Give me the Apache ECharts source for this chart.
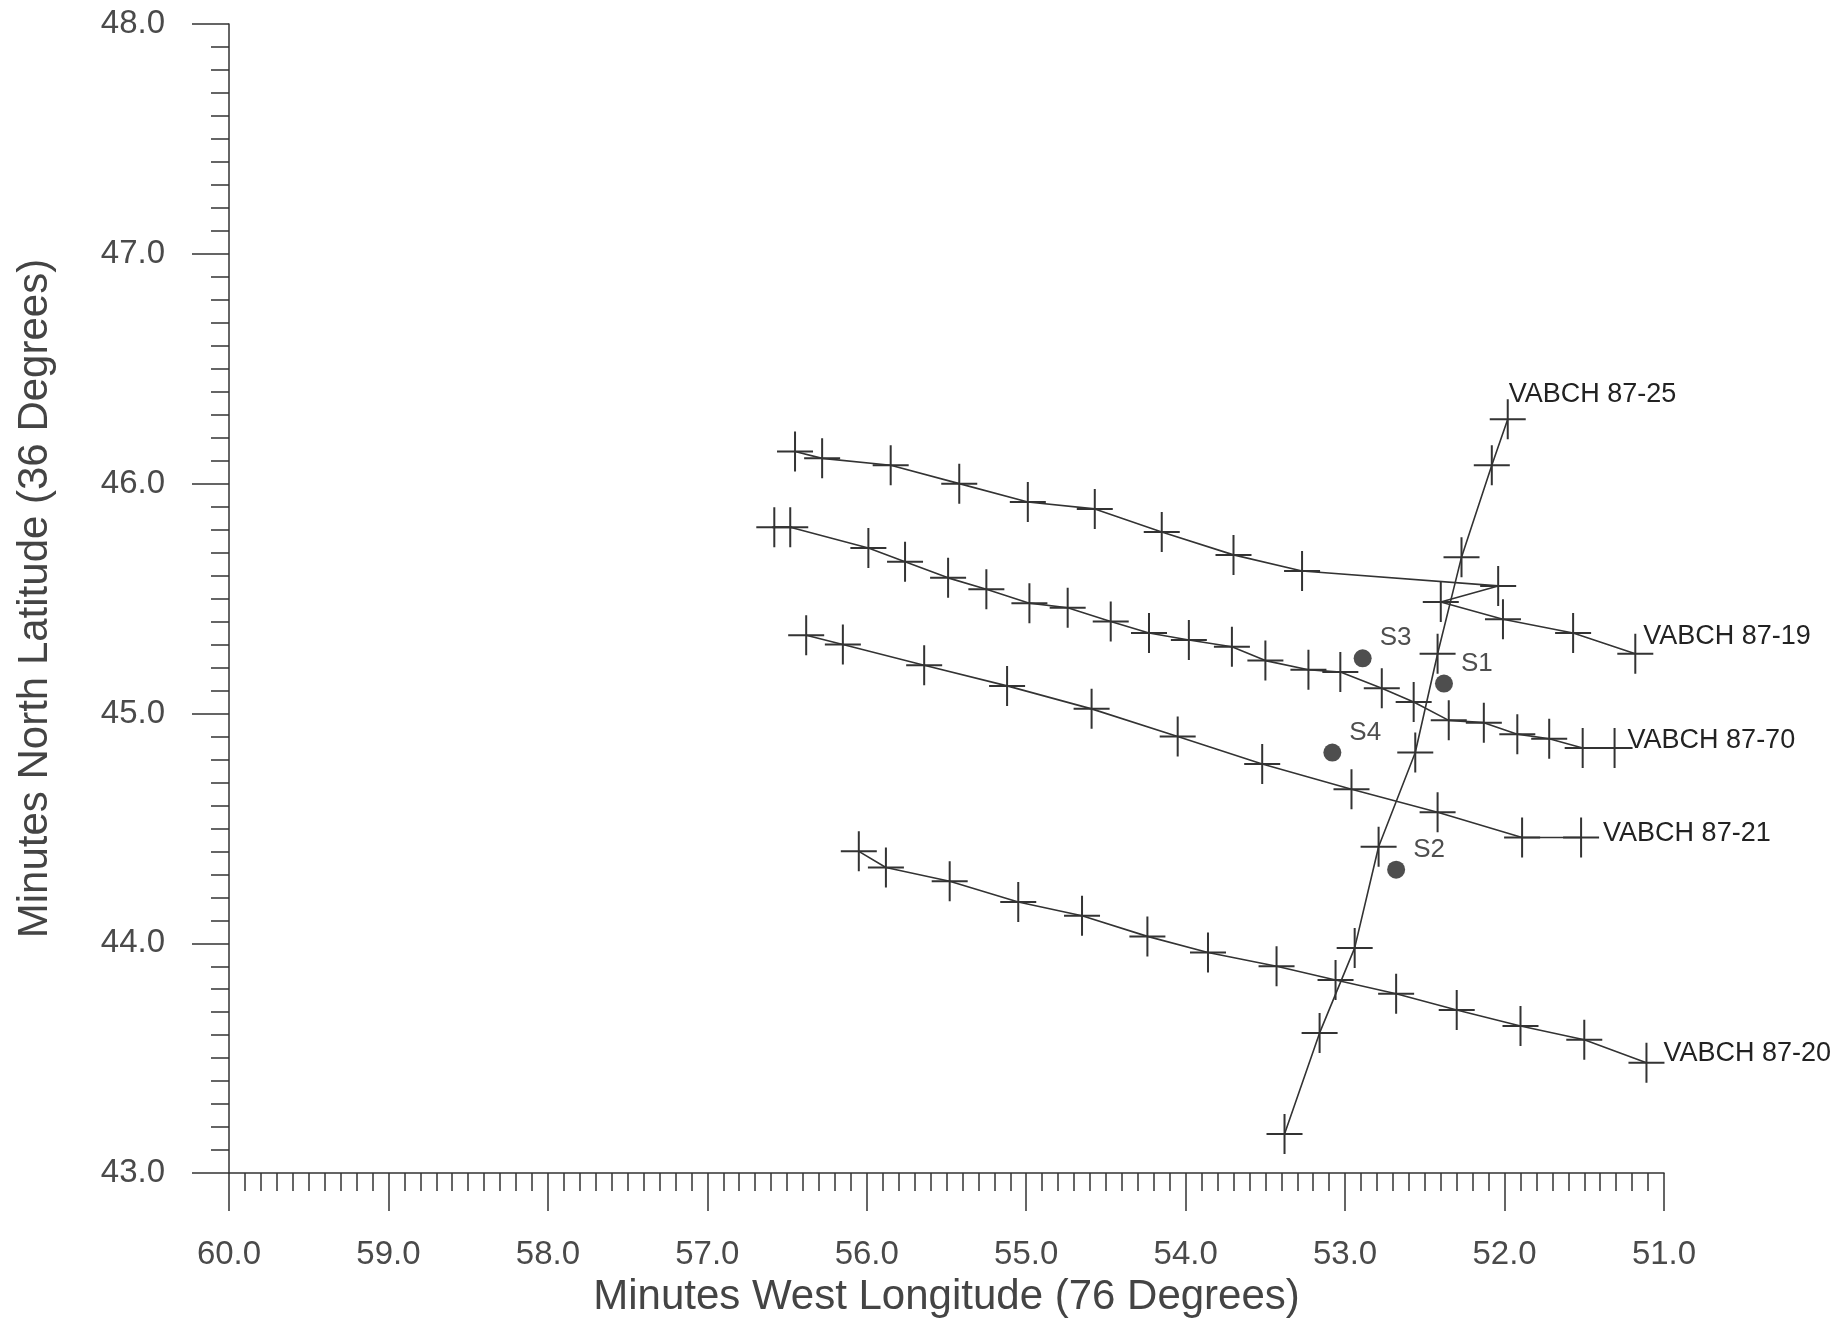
<!DOCTYPE html>
<html>
<head>
<meta charset="utf-8">
<script src="https://cdn.jsdelivr.net/npm/echarts@6/dist/echarts.min.js"></script>
<style>
  html, body { margin: 0; padding: 0; background: #fff; }
  #chart { width: 1843px; height: 1323px; }
</style>
</head>
<body>
<div id="chart"></div>
<script>
// survey lines, minutes west longitude / minutes north latitude
var line8719Lon = [56.45, 56.28, 55.85, 55.42, 54.99, 54.57, 54.15, 53.70, 53.27, 52.04, 52.40, 52.01, 51.57, 51.18];
var line8719Lat = [46.14, 46.11, 46.08, 46.00, 45.92, 45.89, 45.79, 45.69, 45.62, 45.555, 45.485, 45.41, 45.35, 45.26];

var line8770Lon = [56.58, 56.48, 55.99, 55.76, 55.49, 55.25, 54.98, 54.74, 54.47, 54.23, 53.98, 53.71, 53.50, 53.23, 53.03, 52.77, 52.57, 52.35, 52.13, 51.92, 51.72, 51.51, 51.31];
var line8770Lat = [45.81, 45.81, 45.72, 45.66, 45.59, 45.54, 45.48, 45.46, 45.40, 45.35, 45.32, 45.29, 45.23, 45.19, 45.18, 45.11, 45.05, 44.97, 44.96, 44.91, 44.89, 44.85, 44.85];

var line8721Lon = [56.38, 56.15, 55.64, 55.12, 54.59, 54.05, 53.52, 52.96, 52.42, 51.89, 51.52];
var line8721Lat = [45.34, 45.30, 45.21, 45.12, 45.02, 44.90, 44.78, 44.67, 44.57, 44.46, 44.46];

var line8720Lon = [56.05, 55.88, 55.48, 55.05, 54.65, 54.24, 53.86, 53.43, 53.06, 52.68, 52.30, 51.90, 51.50, 51.11];
var line8720Lat = [44.40, 44.33, 44.27, 44.18, 44.12, 44.03, 43.96, 43.90, 43.84, 43.78, 43.71, 43.64, 43.58, 43.48];

var line8725Lon = [53.38, 53.16, 52.94, 52.79, 52.56, 52.42, 52.27, 52.08, 51.98];
var line8725Lat = [43.17, 43.61, 43.98, 44.42, 44.83, 45.26, 45.68, 46.08, 46.28];

var siteNames = ["S1", "S2", "S3", "S4"];
var siteLon = [52.38, 52.68, 52.89, 53.08];
var siteLat = [45.13, 44.32, 45.24, 44.83];

var chart = echarts.init(document.getElementById("chart"));

var crossPath = "path://M17,0h2v40h-2z M0,19h36v2h-36z";
var ink = "#333";

function makeLine(name, lons, lats, labelOffset) {
  var data = [];
  for (var i = 0; i < lons.length; i++) {
    data.push([lons[i], lats[i]]);
  }
  var last = data.length - 1;
  data[last] = {
    value: data[last],
    label: {
      show: true,
      position: "right",
      distance: 0,
      offset: labelOffset,
      formatter: name,
      fontFamily: "Liberation Sans, Arial, sans-serif",
      fontSize: 27,
      color: "#222",
    },
  };
  return {
    name: name,
    type: "line",
    data: data,
    symbol: crossPath,
    symbolSize: [36, 40],
    showAllSymbol: true,
    itemStyle: { color: ink },
    lineStyle: { color: ink, width: 1.6 },
    animation: false,
    z: 3,
  };
}

var siteData = [];
for (var i = 0; i < siteNames.length; i++) {
  siteData.push({ name: siteNames[i], value: [siteLon[i], siteLat[i]] });
}

var option = {
  backgroundColor: "#fff",
  animation: false,
  grid: {
    left: 229,
    right: 179,
    top: 24,
    bottom: 140,
  },
  xAxis: {
    type: "value",
    inverse: true,
    min: 51,
    max: 60,
    interval: 1,
    name: "Minutes West Longitude (76 Degrees)",
    nameLocation: "middle",
    nameGap: 90,
    nameTextStyle: {
      fontFamily: "Liberation Sans, Arial, sans-serif",
      fontSize: 42,
      color: "#444",
    },
    axisLine: { show: true, lineStyle: { color: ink, width: 1.5 } },
    axisTick: { show: true, inside: false, length: 38, lineStyle: { color: ink, width: 1.5 } },
    minorTick: { show: true, splitNumber: 10, length: 18, lineStyle: { color: ink, width: 1.5 } },
    axisLabel: {
      margin: 65,
      fontFamily: "Liberation Sans, Arial, sans-serif",
      fontSize: 33,
      color: "#4a4a4a",
      formatter: function (v) {
        return v.toFixed(1);
      },
    },
    splitLine: { show: false },
  },
  yAxis: {
    type: "value",
    min: 43,
    max: 48,
    interval: 1,
    name: "Minutes North Latitude (36 Degrees)",
    nameLocation: "middle",
    nameGap: 173,
    nameTextStyle: {
      fontFamily: "Liberation Sans, Arial, sans-serif",
      fontSize: 42,
      color: "#444",
    },
    axisLine: { show: true, lineStyle: { color: ink, width: 1.5 } },
    axisTick: { show: true, inside: false, length: 37, lineStyle: { color: ink, width: 1.5 } },
    minorTick: { show: true, splitNumber: 10, length: 18, lineStyle: { color: ink, width: 1.5 } },
    axisLabel: {
      margin: 64,
      fontFamily: "Liberation Sans, Arial, sans-serif",
      fontSize: 33,
      color: "#4a4a4a",
      formatter: function (v) {
        return v.toFixed(1);
      },
    },
    splitLine: { show: false },
  },
  series: [
    makeLine("VABCH 87-19", line8719Lon, line8719Lat, [-10, -17]),
    makeLine("VABCH 87-70", line8770Lon, line8770Lat, [-5, -7]),
    makeLine("VABCH 87-21", line8721Lon, line8721Lat, [4, -4]),
    makeLine("VABCH 87-20", line8720Lon, line8720Lat, [-1, -9]),
    makeLine("VABCH 87-25", line8725Lon, line8725Lat, [-17, -25]),
    {
      name: "sites",
      type: "scatter",
      data: siteData,
      symbol: "circle",
      symbolSize: 18,
      itemStyle: { color: "#222" },
      label: {
        show: true,
        position: "right",
        distance: 0,
        offset: [8, -20],
        formatter: "{b}",
        fontFamily: "Liberation Sans, Arial, sans-serif",
        fontSize: 26,
        color: "#222",
      },
      z: 4,
    },
  ],
};

chart.setOption(option);
</script>
</body>
</html>
